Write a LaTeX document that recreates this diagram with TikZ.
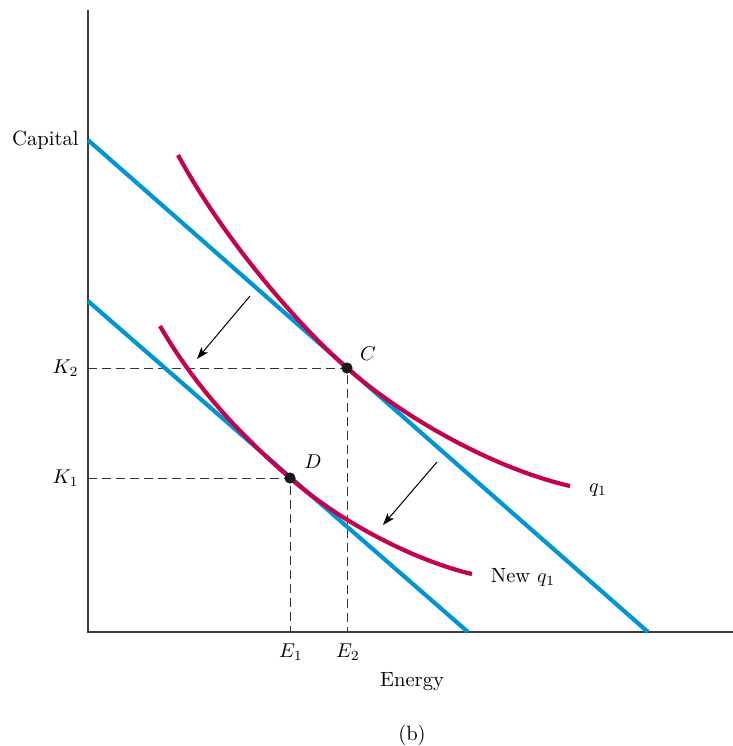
\documentclass[tikz,border=0pt]{standalone}
\usetikzlibrary{arrows.meta}
\definecolor{budget}{RGB}{0,150,214}
\definecolor{iso}{RGB}{196,0,80}
\definecolor{axisgray}{RGB}{60,60,60}
\tikzset{
  axisline/.style={draw=axisgray, line width=0.75pt},
  budgetline/.style={draw=budget, line width=2.1pt},
  isoquant/.style={draw=iso, line width=2.1pt},
  guide/.style={draw=black!80, line width=0.5pt, dash pattern=on 4.5pt off 2.5pt},
  shiftarrow/.style={draw=black, line width=0.5pt, -{Stealth[length=6pt,width=4.2pt,inset=1.5pt]}},
  dot/.style={circle, fill=black!90, inner sep=0pt, minimum size=5.6pt},
  lbl/.style={inner sep=0pt, font=\fontsize{10.3}{12}\selectfont}
}
\begin{document}
\begin{tikzpicture}[x=0.5pt,y=-0.5pt]
\useasboundingbox (0,0) rectangle (733,746);
% axes
\coordinate (Ytop) at (88,10);
\coordinate (O) at (88,632);
\coordinate (Xend) at (733,632);
\draw[axisline] (Ytop) -- (O) -- (Xend);
% key coordinates
\coordinate (Cp) at (347,368);
\coordinate (Dp) at (290,478);
\coordinate (K2) at (88,368);
\coordinate (K1) at (88,478);
\coordinate (E2) at (347,632);
\coordinate (E1) at (290,632);
% guides
\draw[guide] (K2) -- (Cp) -- (E2);
\draw[guide] (K1) -- (Dp) -- (E1);
% budget lines
\coordinate (B1a) at (88,140);
\coordinate (B1b) at (648,632);
\coordinate (B2a) at (88,301);
\coordinate (B2b) at (468,632);
\draw[budgetline] (B1a) -- (B1b);
\draw[budgetline] (B2a) -- (B2b);
% isoquants
\coordinate (Q1s) at (178,155);
\coordinate (Q1e) at (570,486);
\draw[isoquant] (Q1s) .. controls (224,240) and (300,327) .. (Cp)
                      .. controls (410,423) and (500,470) .. (Q1e);
\coordinate (Q2s) at (160,326);
\coordinate (Q2e) at (472,574);
\draw[isoquant] (Q2s) .. controls (200,395) and (250,443) .. (Dp)
                      .. controls (345,526) and (420,562) .. (Q2e);
% shift arrows
\coordinate (A1s) at (250,296);
\coordinate (A1e) at (197,359);
\coordinate (A2s) at (437,462);
\coordinate (A2e) at (383,525);
\draw[shiftarrow] (A1s) -- (A1e);
\draw[shiftarrow] (A2s) -- (A2e);
% points
\node[dot] (C) at (Cp) {};
\node[dot] (D) at (Dp) {};
% labels
\node[lbl, anchor=east] (capital) at (79,140) {Capital};
\node[lbl, anchor=east] (k2lbl) at (79,368) {$K_2$};
\node[lbl, anchor=east] (k1lbl) at (79,478) {$K_1$};
\node[lbl] (e1lbl) at (291,652) {$E_1$};
\node[lbl] (e2lbl) at (348,652) {$E_2$};
\node[lbl] (energy) at (412,682) {Energy};
\node[lbl] (blbl) at (412,735) {(b)};
\node[lbl] (clbl) at (368,354) {$C$};
\node[lbl] (dlbl) at (313,462) {$D$};
\node[lbl] (q1lbl) at (598,490) {$q_1$};
\node[lbl] (newq1) at (523,577) {New $q_1$};
\end{tikzpicture}
\end{document}
